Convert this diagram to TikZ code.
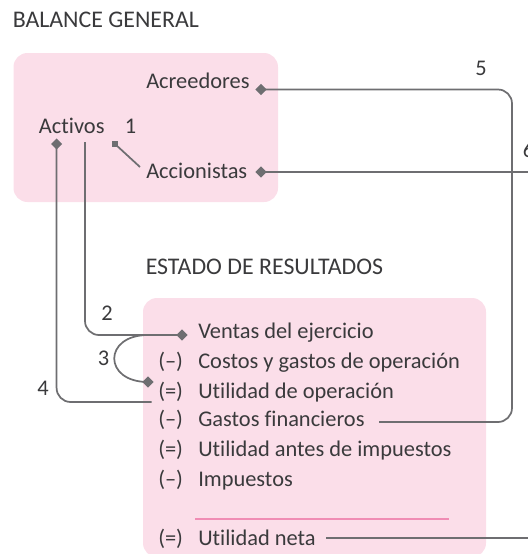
\documentclass[tikz,border=0pt]{standalone}
\usepackage{fontspec}
\setmainfont{Carlito}[Ligatures=NoCommon]
\usetikzlibrary{shapes.geometric}
\definecolor{boxpink}{RGB}{251,222,233}
\definecolor{linegray}{RGB}{110,110,113}
\definecolor{txt}{RGB}{58,58,60}
\definecolor{rulepink}{RGB}{240,140,180}
\begin{document}
\begin{tikzpicture}[x=0.75pt,y=-0.75pt,
  font=\fontsize{16.8}{20}\selectfont,
  lbl/.style={anchor=base west, inner sep=0pt, text=txt},
  ttl/.style={lbl, font=\fontsize{17.9}{21}\selectfont},
  conn/.style={draw=linegray, line width=1.3pt, rounded corners=10.5pt},
  dia/.style={diamond, fill=linegray, inner sep=0pt, minimum size=8.5pt},
  sqm/.style={rectangle, fill=linegray, inner sep=0pt, minimum size=5.2pt},
  panel/.style={fill=boxpink, rounded corners=10.5pt}]
\useasboundingbox (0,0) rectangle (528,554);
% panels
\fill[panel] (13.5,53) rectangle (278,202);
\fill[panel] (143,298) rectangle (486,557);
\draw[rulepink, line width=2.2pt] (195,519) -- (449,519);
% titles
\node[ttl] (title1) at (12.5,27.6) {BALANCE GENERAL};
\node[ttl] (title2) at (145.5,274.7) {ESTADO DE RESULTADOS};
% balance items
\node[lbl] (acre) at (146,88.9) {Acreedores};
\node[lbl] (act) at (38.7,133.7) {Activos};
\node[lbl] (acci) at (146,178.5) {Accionistas};
% numbers
\node[lbl] (n1) at (124.6,133.5) {1};
\node[lbl] (n2) at (101,320.5) {2};
\node[lbl] (n3) at (97.6,365) {3};
\node[lbl] (n4) at (37,395) {4};
\node[lbl] (n5) at (475,75.5) {5};
\node[lbl] (n6) at (522.5,157) {6};
% results items
\node[lbl] (r1) at (198,338) {Ventas del ejercicio};
\node[lbl] (p2) at (158,368) {(–)};
\node[lbl] (r2) at (198,368) {Costos y gastos de operación};
\node[lbl] (p3) at (158,398.5) {(=)};
\node[lbl] (r3) at (198,398.5) {Utilidad de operación};
\node[lbl] (p4) at (158,426.5) {(–)};
\node[lbl] (r4) at (198,426.5) {Gastos financieros};
\node[lbl] (p5) at (158,456.5) {(=)};
\node[lbl] (r5) at (198,456.5) {Utilidad antes de impuestos};
\node[lbl] (p6) at (158,486) {(–)};
\node[lbl] (r6) at (198,486) {Impuestos};
\node[lbl] (p7) at (158,545) {(=)};
\node[lbl] (r7) at (198,545) {Utilidad neta};
% connector points
\coordinate (dAcre) at (261,89.5);
\coordinate (dAcci) at (261,172);
\coordinate (dAct) at (56.6,144);
\coordinate (sq1) at (115,144);
\coordinate (e1) at (140,167);
\coordinate (s2) at (85,142);
\coordinate (dVentas) at (182,335);
\coordinate (s3) at (148,335);
\coordinate (d3) at (148,382);
\coordinate (e4) at (151.5,402);
\coordinate (e5) at (379,422);
\coordinate (e6) at (326,538);
% connectors
\draw[conn] (sq1) -- (e1);
\draw[conn] (s2) -- (85,335) -- (dVentas);
\draw[conn] (s3) .. controls (103,335) and (103,382) .. (d3);
\draw[conn] (dAct) -- (56.6,402) -- (e4);
\draw[conn] (dAcre) -- (512,89.5) -- (512,422) -- (e5);
\draw[conn] (dAcci) -- (545,172) -- (545,538) -- (e6);
% markers
\node[dia] (m1) at (dAcre) {};
\node[dia] (m2) at (dAcci) {};
\node[dia] (m3) at (dAct) {};
\node[dia] (m4) at (dVentas) {};
\node[dia] (m5) at (d3) {};
\node[sqm] (m6) at (sq1) {};
\end{tikzpicture}
\end{document}
